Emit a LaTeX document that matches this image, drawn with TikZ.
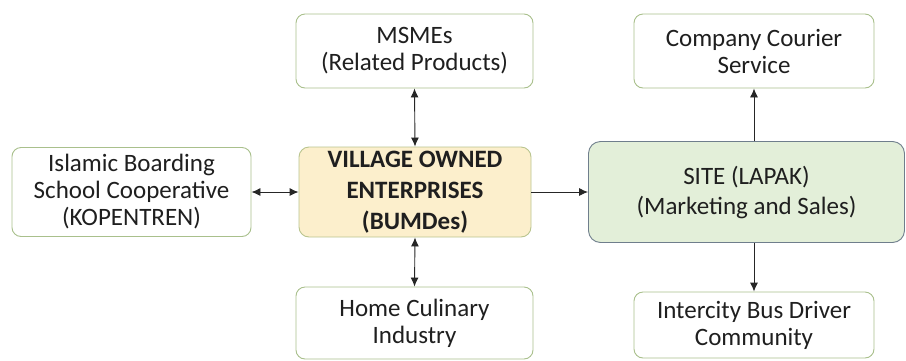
\documentclass[tikz,border=0pt]{standalone}
\usepackage{fontspec}
\setmainfont{Carlito}
\usetikzlibrary{arrows.meta}
\definecolor{boxline}{HTML}{A9C08C}
\definecolor{hubfill}{HTML}{FCEFCC}
\definecolor{hubline}{HTML}{B9C48E}
\definecolor{sitefill}{HTML}{E3EFD9}
\definecolor{siteline}{HTML}{6F7E8C}
\definecolor{txt}{HTML}{1F1F1F}
\tikzset{
  plainbox/.style={draw=boxline, line width=0.9pt, fill=white, rounded corners=9pt,
    align=center, text=txt, inner sep=0pt, font=\fontsize{25}{27}\selectfont},
  hubbox/.style={draw=hubline, line width=0.9pt, fill=hubfill, rounded corners=10pt,
    align=center, text=txt, inner sep=0pt, font=\fontsize{25}{31}\selectfont\bfseries},
  sitebox/.style={draw=siteline, line width=0.9pt, fill=sitefill, rounded corners=12pt,
    align=center, text=txt, inner sep=0pt, font=\fontsize{25}{30}\selectfont},
  tip/.tip={Latex[length=9pt,width=8pt]},
  link/.style={draw=black!85, line width=0.9pt, -tip},
  biglink/.style={draw=black!85, line width=0.9pt, tip-tip}
}
\begin{document}
\begin{tikzpicture}[x=1pt,y=-1pt]
\useasboundingbox (0,0) rectangle (906,360);
\node[plainbox, minimum width=237pt, minimum height=74pt] (msme) at (414.5,51) {MSMEs\\(Related Products)};
\node[plainbox, minimum width=240pt, minimum height=74pt] (courier) at (754,51) {Company Courier\\Service};
\node[hubbox, minimum width=232pt, minimum height=90pt] (hub) at (415,192) {VILLAGE OWNED\\ENTERPRISES\\(BUMDes)};
\node[sitebox, minimum width=316pt, minimum height=101pt] (site) at (746.5,192) {SITE (LAPAK)\\(Marketing and Sales)};
\node[plainbox, minimum width=239pt, minimum height=89pt] (islam) at (131.5,192) {Islamic Boarding\\School Cooperative\\(KOPENTREN)};
\node[plainbox, minimum width=237pt, minimum height=72pt] (home) at (414.5,323) {Home Culinary\\Industry};
\node[plainbox, minimum width=240pt, minimum height=66pt] (bus) at (754,325) {Intercity Bus Driver\\Community};
\draw[biglink] (msme.south) -- (hub.north);
\draw[biglink] (hub.south) -- (home.north);
\draw[biglink] (islam.east) -- (hub.west);
\draw[link] (hub.east) -- (site.west);
\draw[link] (site.north -| courier.south) -- (courier.south);
\draw[link] (site.south -| bus.north) -- (bus.north);
\end{tikzpicture}
\end{document}
